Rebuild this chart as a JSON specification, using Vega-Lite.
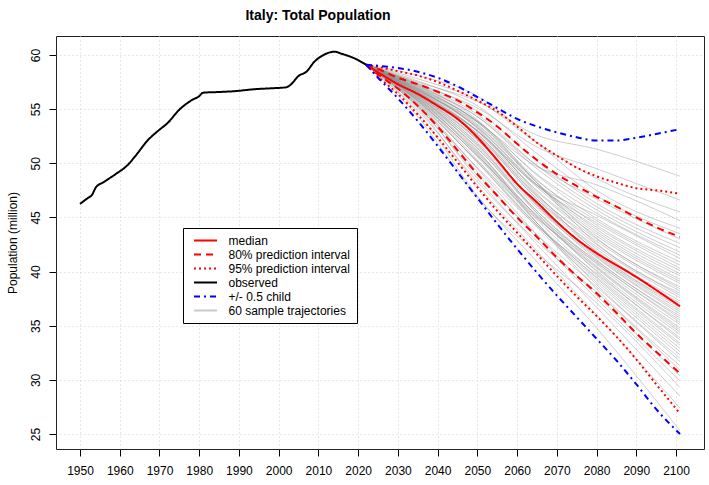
{
  "$schema": "https://vega.github.io/schema/vega-lite/v6.json",
  "width": 648,
  "height": 413,
  "autosize": {"type": "none"},
  "padding": {"left": 56, "top": 36, "right": 5, "bottom": 36},
  "title": {
    "text": "Italy: Total Population",
    "font": "Liberation Sans",
    "fontSize": 14,
    "fontWeight": "bold",
    "color": "black",
    "anchor": "middle",
    "dx": -62,
    "baseline": "alphabetic",
    "offset": 2.5
  },
  "config": {
    "font": "Liberation Sans",
    "view": {"stroke": "#222", "strokeWidth": 1},
    "axis": {
      "labelFont": "Liberation Sans",
      "labelFontSize": 12,
      "labelColor": "black",
      "tickColor": "black",
      "tickSize": 7,
      "domain": false,
      "grid": true,
      "gridColor": "#d0d0d0",
      "gridDash": [1, 3],
      "gridWidth": 1,
      "titleFont": "Liberation Sans",
      "titleFontSize": 12,
      "titleFontWeight": "normal",
      "titleColor": "black"
    }
  },
  "datasets": {
    "main": [
      {"series": "median", "line": "med", "year": 2022, "pop": 59.1},
      {"series": "median", "line": "med", "year": 2025, "pop": 58.4},
      {"series": "median", "line": "med", "year": 2030, "pop": 57.3},
      {"series": "median", "line": "med", "year": 2035, "pop": 56.4},
      {"series": "median", "line": "med", "year": 2040, "pop": 55.3},
      {"series": "median", "line": "med", "year": 2045, "pop": 54.1},
      {"series": "median", "line": "med", "year": 2050, "pop": 52.4},
      {"series": "median", "line": "med", "year": 2055, "pop": 50.3},
      {"series": "median", "line": "med", "year": 2060, "pop": 48.1},
      {"series": "median", "line": "med", "year": 2065, "pop": 46.4},
      {"series": "median", "line": "med", "year": 2070, "pop": 44.6},
      {"series": "median", "line": "med", "year": 2075, "pop": 43.0},
      {"series": "median", "line": "med", "year": 2080, "pop": 41.7},
      {"series": "median", "line": "med", "year": 2085, "pop": 40.6},
      {"series": "median", "line": "med", "year": 2090, "pop": 39.5},
      {"series": "median", "line": "med", "year": 2095, "pop": 38.3},
      {"series": "median", "line": "med", "year": 2101, "pop": 36.8},

      {"series": "80% prediction interval", "line": "u80", "year": 2022, "pop": 59.1},
      {"series": "80% prediction interval", "line": "u80", "year": 2025, "pop": 58.7},
      {"series": "80% prediction interval", "line": "u80", "year": 2030, "pop": 57.9},
      {"series": "80% prediction interval", "line": "u80", "year": 2035, "pop": 57.3},
      {"series": "80% prediction interval", "line": "u80", "year": 2040, "pop": 56.6},
      {"series": "80% prediction interval", "line": "u80", "year": 2045, "pop": 55.8},
      {"series": "80% prediction interval", "line": "u80", "year": 2050, "pop": 54.7},
      {"series": "80% prediction interval", "line": "u80", "year": 2055, "pop": 53.4},
      {"series": "80% prediction interval", "line": "u80", "year": 2060, "pop": 51.8},
      {"series": "80% prediction interval", "line": "u80", "year": 2065, "pop": 50.3},
      {"series": "80% prediction interval", "line": "u80", "year": 2070, "pop": 49.0},
      {"series": "80% prediction interval", "line": "u80", "year": 2075, "pop": 47.9},
      {"series": "80% prediction interval", "line": "u80", "year": 2080, "pop": 46.9},
      {"series": "80% prediction interval", "line": "u80", "year": 2085, "pop": 46.0},
      {"series": "80% prediction interval", "line": "u80", "year": 2090, "pop": 45.0},
      {"series": "80% prediction interval", "line": "u80", "year": 2095, "pop": 44.1},
      {"series": "80% prediction interval", "line": "u80", "year": 2101, "pop": 43.2},

      {"series": "80% prediction interval", "line": "l80", "year": 2022, "pop": 59.1},
      {"series": "80% prediction interval", "line": "l80", "year": 2025, "pop": 58.2},
      {"series": "80% prediction interval", "line": "l80", "year": 2030, "pop": 56.9},
      {"series": "80% prediction interval", "line": "l80", "year": 2035, "pop": 55.3},
      {"series": "80% prediction interval", "line": "l80", "year": 2040, "pop": 53.4},
      {"series": "80% prediction interval", "line": "l80", "year": 2045, "pop": 51.2},
      {"series": "80% prediction interval", "line": "l80", "year": 2050, "pop": 49.0},
      {"series": "80% prediction interval", "line": "l80", "year": 2055, "pop": 47.0},
      {"series": "80% prediction interval", "line": "l80", "year": 2060, "pop": 45.0},
      {"series": "80% prediction interval", "line": "l80", "year": 2065, "pop": 43.2},
      {"series": "80% prediction interval", "line": "l80", "year": 2070, "pop": 41.3},
      {"series": "80% prediction interval", "line": "l80", "year": 2075, "pop": 39.6},
      {"series": "80% prediction interval", "line": "l80", "year": 2080, "pop": 38.0},
      {"series": "80% prediction interval", "line": "l80", "year": 2085, "pop": 36.2},
      {"series": "80% prediction interval", "line": "l80", "year": 2090, "pop": 34.3},
      {"series": "80% prediction interval", "line": "l80", "year": 2095, "pop": 32.6},
      {"series": "80% prediction interval", "line": "l80", "year": 2101, "pop": 30.6},

      {"series": "95% prediction interval", "line": "u95", "year": 2022, "pop": 59.1},
      {"series": "95% prediction interval", "line": "u95", "year": 2025, "pop": 58.9},
      {"series": "95% prediction interval", "line": "u95", "year": 2030, "pop": 58.5},
      {"series": "95% prediction interval", "line": "u95", "year": 2035, "pop": 58.1},
      {"series": "95% prediction interval", "line": "u95", "year": 2040, "pop": 57.5},
      {"series": "95% prediction interval", "line": "u95", "year": 2045, "pop": 56.7},
      {"series": "95% prediction interval", "line": "u95", "year": 2050, "pop": 55.8},
      {"series": "95% prediction interval", "line": "u95", "year": 2055, "pop": 54.8},
      {"series": "95% prediction interval", "line": "u95", "year": 2060, "pop": 53.4},
      {"series": "95% prediction interval", "line": "u95", "year": 2065, "pop": 51.9},
      {"series": "95% prediction interval", "line": "u95", "year": 2070, "pop": 50.7},
      {"series": "95% prediction interval", "line": "u95", "year": 2075, "pop": 49.6},
      {"series": "95% prediction interval", "line": "u95", "year": 2080, "pop": 48.8},
      {"series": "95% prediction interval", "line": "u95", "year": 2085, "pop": 48.2},
      {"series": "95% prediction interval", "line": "u95", "year": 2090, "pop": 47.7},
      {"series": "95% prediction interval", "line": "u95", "year": 2095, "pop": 47.5},
      {"series": "95% prediction interval", "line": "u95", "year": 2101, "pop": 47.2},

      {"series": "95% prediction interval", "line": "l95", "year": 2022, "pop": 59.1},
      {"series": "95% prediction interval", "line": "l95", "year": 2025, "pop": 58.0},
      {"series": "95% prediction interval", "line": "l95", "year": 2030, "pop": 56.4},
      {"series": "95% prediction interval", "line": "l95", "year": 2035, "pop": 54.5},
      {"series": "95% prediction interval", "line": "l95", "year": 2040, "pop": 52.4},
      {"series": "95% prediction interval", "line": "l95", "year": 2045, "pop": 50.1},
      {"series": "95% prediction interval", "line": "l95", "year": 2050, "pop": 47.8},
      {"series": "95% prediction interval", "line": "l95", "year": 2055, "pop": 45.6},
      {"series": "95% prediction interval", "line": "l95", "year": 2060, "pop": 43.6},
      {"series": "95% prediction interval", "line": "l95", "year": 2065, "pop": 41.6},
      {"series": "95% prediction interval", "line": "l95", "year": 2070, "pop": 39.6},
      {"series": "95% prediction interval", "line": "l95", "year": 2075, "pop": 37.7},
      {"series": "95% prediction interval", "line": "l95", "year": 2080, "pop": 35.9},
      {"series": "95% prediction interval", "line": "l95", "year": 2085, "pop": 34.0},
      {"series": "95% prediction interval", "line": "l95", "year": 2090, "pop": 31.9},
      {"series": "95% prediction interval", "line": "l95", "year": 2095, "pop": 29.6},
      {"series": "95% prediction interval", "line": "l95", "year": 2101, "pop": 26.9},

      {"series": "observed", "line": "obs", "year": 1950, "pop": 46.25},
      {"series": "observed", "line": "obs", "year": 1952, "pop": 46.8},
      {"series": "observed", "line": "obs", "year": 1953, "pop": 47.07},
      {"series": "observed", "line": "obs", "year": 1954, "pop": 47.78},
      {"series": "observed", "line": "obs", "year": 1956, "pop": 48.27},
      {"series": "observed", "line": "obs", "year": 1959, "pop": 49.01},
      {"series": "observed", "line": "obs", "year": 1962, "pop": 49.84},
      {"series": "observed", "line": "obs", "year": 1964, "pop": 50.7},
      {"series": "observed", "line": "obs", "year": 1967, "pop": 52.1},
      {"series": "observed", "line": "obs", "year": 1970, "pop": 53.1},
      {"series": "observed", "line": "obs", "year": 1972, "pop": 53.7},
      {"series": "observed", "line": "obs", "year": 1975, "pop": 54.95},
      {"series": "observed", "line": "obs", "year": 1978, "pop": 55.8},
      {"series": "observed", "line": "obs", "year": 1980, "pop": 56.2},
      {"series": "observed", "line": "obs", "year": 1981, "pop": 56.52},
      {"series": "observed", "line": "obs", "year": 1985, "pop": 56.58},
      {"series": "observed", "line": "obs", "year": 1989, "pop": 56.66},
      {"series": "observed", "line": "obs", "year": 1994, "pop": 56.84},
      {"series": "observed", "line": "obs", "year": 1998, "pop": 56.92},
      {"series": "observed", "line": "obs", "year": 2002, "pop": 57.02},
      {"series": "observed", "line": "obs", "year": 2003, "pop": 57.25},
      {"series": "observed", "line": "obs", "year": 2005, "pop": 58.06},
      {"series": "observed", "line": "obs", "year": 2007, "pop": 58.46},
      {"series": "observed", "line": "obs", "year": 2009, "pop": 59.38},
      {"series": "observed", "line": "obs", "year": 2011, "pop": 59.94},
      {"series": "observed", "line": "obs", "year": 2013, "pop": 60.25},
      {"series": "observed", "line": "obs", "year": 2014, "pop": 60.3},
      {"series": "observed", "line": "obs", "year": 2016, "pop": 60.09},
      {"series": "observed", "line": "obs", "year": 2019, "pop": 59.7},
      {"series": "observed", "line": "obs", "year": 2022, "pop": 59.1},

      {"series": "+/- 0.5 child", "line": "hi", "year": 2022, "pop": 59.1},
      {"series": "+/- 0.5 child", "line": "hi", "year": 2025, "pop": 59.0},
      {"series": "+/- 0.5 child", "line": "hi", "year": 2030, "pop": 58.8},
      {"series": "+/- 0.5 child", "line": "hi", "year": 2035, "pop": 58.45},
      {"series": "+/- 0.5 child", "line": "hi", "year": 2040, "pop": 57.9},
      {"series": "+/- 0.5 child", "line": "hi", "year": 2045, "pop": 57.1},
      {"series": "+/- 0.5 child", "line": "hi", "year": 2050, "pop": 56.1},
      {"series": "+/- 0.5 child", "line": "hi", "year": 2055, "pop": 55.1},
      {"series": "+/- 0.5 child", "line": "hi", "year": 2060, "pop": 54.1},
      {"series": "+/- 0.5 child", "line": "hi", "year": 2065, "pop": 53.4},
      {"series": "+/- 0.5 child", "line": "hi", "year": 2070, "pop": 52.85},
      {"series": "+/- 0.5 child", "line": "hi", "year": 2075, "pop": 52.4},
      {"series": "+/- 0.5 child", "line": "hi", "year": 2080, "pop": 52.1},
      {"series": "+/- 0.5 child", "line": "hi", "year": 2085, "pop": 52.1},
      {"series": "+/- 0.5 child", "line": "hi", "year": 2090, "pop": 52.35},
      {"series": "+/- 0.5 child", "line": "hi", "year": 2095, "pop": 52.7},
      {"series": "+/- 0.5 child", "line": "hi", "year": 2101, "pop": 53.15},

      {"series": "+/- 0.5 child", "line": "lo", "year": 2022, "pop": 59.1},
      {"series": "+/- 0.5 child", "line": "lo", "year": 2025, "pop": 57.9},
      {"series": "+/- 0.5 child", "line": "lo", "year": 2030, "pop": 56.0},
      {"series": "+/- 0.5 child", "line": "lo", "year": 2035, "pop": 53.9},
      {"series": "+/- 0.5 child", "line": "lo", "year": 2040, "pop": 51.6},
      {"series": "+/- 0.5 child", "line": "lo", "year": 2045, "pop": 49.2},
      {"series": "+/- 0.5 child", "line": "lo", "year": 2050, "pop": 46.8},
      {"series": "+/- 0.5 child", "line": "lo", "year": 2055, "pop": 44.4},
      {"series": "+/- 0.5 child", "line": "lo", "year": 2060, "pop": 42.1},
      {"series": "+/- 0.5 child", "line": "lo", "year": 2065, "pop": 39.9},
      {"series": "+/- 0.5 child", "line": "lo", "year": 2070, "pop": 37.8},
      {"series": "+/- 0.5 child", "line": "lo", "year": 2075, "pop": 35.8},
      {"series": "+/- 0.5 child", "line": "lo", "year": 2080, "pop": 33.8},
      {"series": "+/- 0.5 child", "line": "lo", "year": 2085, "pop": 31.8},
      {"series": "+/- 0.5 child", "line": "lo", "year": 2090, "pop": 29.6},
      {"series": "+/- 0.5 child", "line": "lo", "year": 2095, "pop": 27.3},
      {"series": "+/- 0.5 child", "line": "lo", "year": 2101, "pop": 25.0}
    ],
    "traj": [
      {"series": "60 sample trajectories", "line": "t0", "year": 2022, "pop": 59.1},
      {"series": "60 sample trajectories", "line": "t0", "year": 2035, "pop": 54.3},
      {"series": "60 sample trajectories", "line": "t0", "year": 2050, "pop": 46.8},
      {"series": "60 sample trajectories", "line": "t0", "year": 2065, "pop": 41.7},
      {"series": "60 sample trajectories", "line": "t0", "year": 2080, "pop": 37.1},
      {"series": "60 sample trajectories", "line": "t0", "year": 2101, "pop": 29.3},
      {"series": "60 sample trajectories", "line": "t1", "year": 2022, "pop": 59.1},
      {"series": "60 sample trajectories", "line": "t1", "year": 2035, "pop": 54.7},
      {"series": "60 sample trajectories", "line": "t1", "year": 2050, "pop": 47.0},
      {"series": "60 sample trajectories", "line": "t1", "year": 2065, "pop": 40.9},
      {"series": "60 sample trajectories", "line": "t1", "year": 2080, "pop": 34.8},
      {"series": "60 sample trajectories", "line": "t1", "year": 2101, "pop": 25.3},
      {"series": "60 sample trajectories", "line": "t2", "year": 2022, "pop": 59.1},
      {"series": "60 sample trajectories", "line": "t2", "year": 2035, "pop": 54.9},
      {"series": "60 sample trajectories", "line": "t2", "year": 2050, "pop": 48.3},
      {"series": "60 sample trajectories", "line": "t2", "year": 2065, "pop": 42.8},
      {"series": "60 sample trajectories", "line": "t2", "year": 2080, "pop": 38.1},
      {"series": "60 sample trajectories", "line": "t2", "year": 2101, "pop": 30.9},
      {"series": "60 sample trajectories", "line": "t3", "year": 2022, "pop": 59.1},
      {"series": "60 sample trajectories", "line": "t3", "year": 2035, "pop": 55.1},
      {"series": "60 sample trajectories", "line": "t3", "year": 2050, "pop": 48.0},
      {"series": "60 sample trajectories", "line": "t3", "year": 2065, "pop": 41.9},
      {"series": "60 sample trajectories", "line": "t3", "year": 2080, "pop": 36.0},
      {"series": "60 sample trajectories", "line": "t3", "year": 2101, "pop": 27.4},
      {"series": "60 sample trajectories", "line": "t4", "year": 2022, "pop": 59.1},
      {"series": "60 sample trajectories", "line": "t4", "year": 2035, "pop": 55.2},
      {"series": "60 sample trajectories", "line": "t4", "year": 2050, "pop": 48.9},
      {"series": "60 sample trajectories", "line": "t4", "year": 2065, "pop": 43.4},
      {"series": "60 sample trajectories", "line": "t4", "year": 2080, "pop": 38.6},
      {"series": "60 sample trajectories", "line": "t4", "year": 2101, "pop": 31.7},
      {"series": "60 sample trajectories", "line": "t5", "year": 2022, "pop": 59.1},
      {"series": "60 sample trajectories", "line": "t5", "year": 2035, "pop": 55.3},
      {"series": "60 sample trajectories", "line": "t5", "year": 2050, "pop": 48.6},
      {"series": "60 sample trajectories", "line": "t5", "year": 2065, "pop": 42.5},
      {"series": "60 sample trajectories", "line": "t5", "year": 2080, "pop": 36.7},
      {"series": "60 sample trajectories", "line": "t5", "year": 2101, "pop": 28.5},
      {"series": "60 sample trajectories", "line": "t6", "year": 2022, "pop": 59.1},
      {"series": "60 sample trajectories", "line": "t6", "year": 2035, "pop": 55.3},
      {"series": "60 sample trajectories", "line": "t6", "year": 2050, "pop": 49.6},
      {"series": "60 sample trajectories", "line": "t6", "year": 2065, "pop": 44.2},
      {"series": "60 sample trajectories", "line": "t6", "year": 2080, "pop": 39.8},
      {"series": "60 sample trajectories", "line": "t6", "year": 2101, "pop": 33.7},
      {"series": "60 sample trajectories", "line": "t7", "year": 2022, "pop": 59.1},
      {"series": "60 sample trajectories", "line": "t7", "year": 2035, "pop": 55.4},
      {"series": "60 sample trajectories", "line": "t7", "year": 2050, "pop": 49.2},
      {"series": "60 sample trajectories", "line": "t7", "year": 2065, "pop": 43.1},
      {"series": "60 sample trajectories", "line": "t7", "year": 2080, "pop": 37.5},
      {"series": "60 sample trajectories", "line": "t7", "year": 2101, "pop": 29.9},
      {"series": "60 sample trajectories", "line": "t8", "year": 2022, "pop": 59.1},
      {"series": "60 sample trajectories", "line": "t8", "year": 2035, "pop": 55.5},
      {"series": "60 sample trajectories", "line": "t8", "year": 2050, "pop": 50.2},
      {"series": "60 sample trajectories", "line": "t8", "year": 2065, "pop": 44.9},
      {"series": "60 sample trajectories", "line": "t8", "year": 2080, "pop": 40.8},
      {"series": "60 sample trajectories", "line": "t8", "year": 2101, "pop": 35.3},
      {"series": "60 sample trajectories", "line": "t9", "year": 2022, "pop": 59.1},
      {"series": "60 sample trajectories", "line": "t9", "year": 2035, "pop": 55.5},
      {"series": "60 sample trajectories", "line": "t9", "year": 2050, "pop": 49.5},
      {"series": "60 sample trajectories", "line": "t9", "year": 2065, "pop": 43.4},
      {"series": "60 sample trajectories", "line": "t9", "year": 2080, "pop": 37.8},
      {"series": "60 sample trajectories", "line": "t9", "year": 2101, "pop": 30.4},
      {"series": "60 sample trajectories", "line": "t10", "year": 2022, "pop": 59.1},
      {"series": "60 sample trajectories", "line": "t10", "year": 2035, "pop": 55.6},
      {"series": "60 sample trajectories", "line": "t10", "year": 2050, "pop": 50.1},
      {"series": "60 sample trajectories", "line": "t10", "year": 2065, "pop": 44.3},
      {"series": "60 sample trajectories", "line": "t10", "year": 2080, "pop": 39.5},
      {"series": "60 sample trajectories", "line": "t10", "year": 2101, "pop": 33.2},
      {"series": "60 sample trajectories", "line": "t11", "year": 2022, "pop": 59.1},
      {"series": "60 sample trajectories", "line": "t11", "year": 2035, "pop": 55.7},
      {"series": "60 sample trajectories", "line": "t11", "year": 2050, "pop": 50.1},
      {"series": "60 sample trajectories", "line": "t11", "year": 2065, "pop": 44.1},
      {"series": "60 sample trajectories", "line": "t11", "year": 2080, "pop": 39.0},
      {"series": "60 sample trajectories", "line": "t11", "year": 2101, "pop": 32.3},
      {"series": "60 sample trajectories", "line": "t12", "year": 2022, "pop": 59.1},
      {"series": "60 sample trajectories", "line": "t12", "year": 2035, "pop": 55.7},
      {"series": "60 sample trajectories", "line": "t12", "year": 2050, "pop": 50.7},
      {"series": "60 sample trajectories", "line": "t12", "year": 2065, "pop": 45.2},
      {"series": "60 sample trajectories", "line": "t12", "year": 2080, "pop": 41.0},
      {"series": "60 sample trajectories", "line": "t12", "year": 2101, "pop": 35.7},
      {"series": "60 sample trajectories", "line": "t13", "year": 2022, "pop": 59.1},
      {"series": "60 sample trajectories", "line": "t13", "year": 2035, "pop": 55.8},
      {"series": "60 sample trajectories", "line": "t13", "year": 2050, "pop": 50.3},
      {"series": "60 sample trajectories", "line": "t13", "year": 2065, "pop": 44.3},
      {"series": "60 sample trajectories", "line": "t13", "year": 2080, "pop": 39.2},
      {"series": "60 sample trajectories", "line": "t13", "year": 2101, "pop": 32.6},
      {"series": "60 sample trajectories", "line": "t14", "year": 2022, "pop": 59.1},
      {"series": "60 sample trajectories", "line": "t14", "year": 2035, "pop": 55.8},
      {"series": "60 sample trajectories", "line": "t14", "year": 2050, "pop": 50.7},
      {"series": "60 sample trajectories", "line": "t14", "year": 2065, "pop": 45.0},
      {"series": "60 sample trajectories", "line": "t14", "year": 2080, "pop": 40.3},
      {"series": "60 sample trajectories", "line": "t14", "year": 2101, "pop": 34.4},
      {"series": "60 sample trajectories", "line": "t15", "year": 2022, "pop": 59.1},
      {"series": "60 sample trajectories", "line": "t15", "year": 2035, "pop": 55.8},
      {"series": "60 sample trajectories", "line": "t15", "year": 2050, "pop": 50.6},
      {"series": "60 sample trajectories", "line": "t15", "year": 2065, "pop": 44.5},
      {"series": "60 sample trajectories", "line": "t15", "year": 2080, "pop": 39.4},
      {"series": "60 sample trajectories", "line": "t15", "year": 2101, "pop": 32.9},
      {"series": "60 sample trajectories", "line": "t16", "year": 2022, "pop": 59.1},
      {"series": "60 sample trajectories", "line": "t16", "year": 2035, "pop": 55.9},
      {"series": "60 sample trajectories", "line": "t16", "year": 2050, "pop": 51.0},
      {"series": "60 sample trajectories", "line": "t16", "year": 2065, "pop": 45.1},
      {"series": "60 sample trajectories", "line": "t16", "year": 2080, "pop": 40.4},
      {"series": "60 sample trajectories", "line": "t16", "year": 2101, "pop": 34.6},
      {"series": "60 sample trajectories", "line": "t17", "year": 2022, "pop": 59.1},
      {"series": "60 sample trajectories", "line": "t17", "year": 2035, "pop": 55.9},
      {"series": "60 sample trajectories", "line": "t17", "year": 2050, "pop": 50.9},
      {"series": "60 sample trajectories", "line": "t17", "year": 2065, "pop": 44.8},
      {"series": "60 sample trajectories", "line": "t17", "year": 2080, "pop": 39.7},
      {"series": "60 sample trajectories", "line": "t17", "year": 2101, "pop": 33.4},
      {"series": "60 sample trajectories", "line": "t18", "year": 2022, "pop": 59.1},
      {"series": "60 sample trajectories", "line": "t18", "year": 2035, "pop": 56.0},
      {"series": "60 sample trajectories", "line": "t18", "year": 2050, "pop": 51.1},
      {"series": "60 sample trajectories", "line": "t18", "year": 2065, "pop": 45.1},
      {"series": "60 sample trajectories", "line": "t18", "year": 2080, "pop": 40.1},
      {"series": "60 sample trajectories", "line": "t18", "year": 2101, "pop": 34.2},
      {"series": "60 sample trajectories", "line": "t19", "year": 2022, "pop": 59.1},
      {"series": "60 sample trajectories", "line": "t19", "year": 2035, "pop": 56.0},
      {"series": "60 sample trajectories", "line": "t19", "year": 2050, "pop": 50.8},
      {"series": "60 sample trajectories", "line": "t19", "year": 2065, "pop": 44.5},
      {"series": "60 sample trajectories", "line": "t19", "year": 2080, "pop": 38.8},
      {"series": "60 sample trajectories", "line": "t19", "year": 2101, "pop": 32.0},
      {"series": "60 sample trajectories", "line": "t20", "year": 2022, "pop": 59.1},
      {"series": "60 sample trajectories", "line": "t20", "year": 2035, "pop": 56.0},
      {"series": "60 sample trajectories", "line": "t20", "year": 2050, "pop": 51.4},
      {"series": "60 sample trajectories", "line": "t20", "year": 2065, "pop": 45.6},
      {"series": "60 sample trajectories", "line": "t20", "year": 2080, "pop": 40.9},
      {"series": "60 sample trajectories", "line": "t20", "year": 2101, "pop": 35.5},
      {"series": "60 sample trajectories", "line": "t21", "year": 2022, "pop": 59.1},
      {"series": "60 sample trajectories", "line": "t21", "year": 2035, "pop": 56.1},
      {"series": "60 sample trajectories", "line": "t21", "year": 2050, "pop": 51.4},
      {"series": "60 sample trajectories", "line": "t21", "year": 2065, "pop": 45.4},
      {"series": "60 sample trajectories", "line": "t21", "year": 2080, "pop": 40.5},
      {"series": "60 sample trajectories", "line": "t21", "year": 2101, "pop": 34.8},
      {"series": "60 sample trajectories", "line": "t22", "year": 2022, "pop": 59.1},
      {"series": "60 sample trajectories", "line": "t22", "year": 2035, "pop": 56.1},
      {"series": "60 sample trajectories", "line": "t22", "year": 2050, "pop": 51.7},
      {"series": "60 sample trajectories", "line": "t22", "year": 2065, "pop": 45.9},
      {"series": "60 sample trajectories", "line": "t22", "year": 2080, "pop": 41.3},
      {"series": "60 sample trajectories", "line": "t22", "year": 2101, "pop": 36.1},
      {"series": "60 sample trajectories", "line": "t23", "year": 2022, "pop": 59.1},
      {"series": "60 sample trajectories", "line": "t23", "year": 2035, "pop": 56.2},
      {"series": "60 sample trajectories", "line": "t23", "year": 2050, "pop": 51.6},
      {"series": "60 sample trajectories", "line": "t23", "year": 2065, "pop": 45.6},
      {"series": "60 sample trajectories", "line": "t23", "year": 2080, "pop": 40.7},
      {"series": "60 sample trajectories", "line": "t23", "year": 2101, "pop": 35.1},
      {"series": "60 sample trajectories", "line": "t24", "year": 2022, "pop": 59.1},
      {"series": "60 sample trajectories", "line": "t24", "year": 2035, "pop": 56.2},
      {"series": "60 sample trajectories", "line": "t24", "year": 2050, "pop": 51.9},
      {"series": "60 sample trajectories", "line": "t24", "year": 2065, "pop": 46.1},
      {"series": "60 sample trajectories", "line": "t24", "year": 2080, "pop": 41.5},
      {"series": "60 sample trajectories", "line": "t24", "year": 2101, "pop": 36.5},
      {"series": "60 sample trajectories", "line": "t25", "year": 2022, "pop": 59.1},
      {"series": "60 sample trajectories", "line": "t25", "year": 2035, "pop": 56.2},
      {"series": "60 sample trajectories", "line": "t25", "year": 2050, "pop": 51.2},
      {"series": "60 sample trajectories", "line": "t25", "year": 2065, "pop": 44.5},
      {"series": "60 sample trajectories", "line": "t25", "year": 2080, "pop": 38.4},
      {"series": "60 sample trajectories", "line": "t25", "year": 2101, "pop": 31.3},
      {"series": "60 sample trajectories", "line": "t26", "year": 2022, "pop": 59.1},
      {"series": "60 sample trajectories", "line": "t26", "year": 2035, "pop": 56.3},
      {"series": "60 sample trajectories", "line": "t26", "year": 2050, "pop": 52.1},
      {"series": "60 sample trajectories", "line": "t26", "year": 2065, "pop": 46.2},
      {"series": "60 sample trajectories", "line": "t26", "year": 2080, "pop": 41.6},
      {"series": "60 sample trajectories", "line": "t26", "year": 2101, "pop": 36.7},
      {"series": "60 sample trajectories", "line": "t27", "year": 2022, "pop": 59.1},
      {"series": "60 sample trajectories", "line": "t27", "year": 2035, "pop": 56.3},
      {"series": "60 sample trajectories", "line": "t27", "year": 2050, "pop": 51.8},
      {"series": "60 sample trajectories", "line": "t27", "year": 2065, "pop": 45.4},
      {"series": "60 sample trajectories", "line": "t27", "year": 2080, "pop": 40.0},
      {"series": "60 sample trajectories", "line": "t27", "year": 2101, "pop": 33.9},
      {"series": "60 sample trajectories", "line": "t28", "year": 2022, "pop": 59.1},
      {"series": "60 sample trajectories", "line": "t28", "year": 2035, "pop": 56.3},
      {"series": "60 sample trajectories", "line": "t28", "year": 2050, "pop": 52.2},
      {"series": "60 sample trajectories", "line": "t28", "year": 2065, "pop": 46.2},
      {"series": "60 sample trajectories", "line": "t28", "year": 2080, "pop": 41.4},
      {"series": "60 sample trajectories", "line": "t28", "year": 2101, "pop": 36.3},
      {"series": "60 sample trajectories", "line": "t29", "year": 2022, "pop": 59.1},
      {"series": "60 sample trajectories", "line": "t29", "year": 2035, "pop": 56.4},
      {"series": "60 sample trajectories", "line": "t29", "year": 2050, "pop": 52.2},
      {"series": "60 sample trajectories", "line": "t29", "year": 2065, "pop": 46.1},
      {"series": "60 sample trajectories", "line": "t29", "year": 2080, "pop": 41.1},
      {"series": "60 sample trajectories", "line": "t29", "year": 2101, "pop": 35.9},
      {"series": "60 sample trajectories", "line": "t30", "year": 2022, "pop": 59.1},
      {"series": "60 sample trajectories", "line": "t30", "year": 2035, "pop": 56.4},
      {"series": "60 sample trajectories", "line": "t30", "year": 2050, "pop": 52.5},
      {"series": "60 sample trajectories", "line": "t30", "year": 2065, "pop": 46.7},
      {"series": "60 sample trajectories", "line": "t30", "year": 2080, "pop": 42.3},
      {"series": "60 sample trajectories", "line": "t30", "year": 2101, "pop": 37.6},
      {"series": "60 sample trajectories", "line": "t31", "year": 2022, "pop": 59.1},
      {"series": "60 sample trajectories", "line": "t31", "year": 2035, "pop": 56.4},
      {"series": "60 sample trajectories", "line": "t31", "year": 2050, "pop": 53.0},
      {"series": "60 sample trajectories", "line": "t31", "year": 2065, "pop": 48.0},
      {"series": "60 sample trajectories", "line": "t31", "year": 2080, "pop": 45.2},
      {"series": "60 sample trajectories", "line": "t31", "year": 2101, "pop": 41.2},
      {"series": "60 sample trajectories", "line": "t32", "year": 2022, "pop": 59.1},
      {"series": "60 sample trajectories", "line": "t32", "year": 2035, "pop": 56.5},
      {"series": "60 sample trajectories", "line": "t32", "year": 2050, "pop": 52.7},
      {"series": "60 sample trajectories", "line": "t32", "year": 2065, "pop": 47.0},
      {"series": "60 sample trajectories", "line": "t32", "year": 2080, "pop": 42.8},
      {"series": "60 sample trajectories", "line": "t32", "year": 2101, "pop": 38.2},
      {"series": "60 sample trajectories", "line": "t33", "year": 2022, "pop": 59.1},
      {"series": "60 sample trajectories", "line": "t33", "year": 2035, "pop": 56.5},
      {"series": "60 sample trajectories", "line": "t33", "year": 2050, "pop": 52.6},
      {"series": "60 sample trajectories", "line": "t33", "year": 2065, "pop": 46.7},
      {"series": "60 sample trajectories", "line": "t33", "year": 2080, "pop": 41.9},
      {"series": "60 sample trajectories", "line": "t33", "year": 2101, "pop": 37.1},
      {"series": "60 sample trajectories", "line": "t34", "year": 2022, "pop": 59.1},
      {"series": "60 sample trajectories", "line": "t34", "year": 2035, "pop": 56.5},
      {"series": "60 sample trajectories", "line": "t34", "year": 2050, "pop": 53.0},
      {"series": "60 sample trajectories", "line": "t34", "year": 2065, "pop": 47.9},
      {"series": "60 sample trajectories", "line": "t34", "year": 2080, "pop": 44.5},
      {"series": "60 sample trajectories", "line": "t34", "year": 2101, "pop": 40.3},
      {"series": "60 sample trajectories", "line": "t35", "year": 2022, "pop": 59.1},
      {"series": "60 sample trajectories", "line": "t35", "year": 2035, "pop": 56.6},
      {"series": "60 sample trajectories", "line": "t35", "year": 2050, "pop": 52.7},
      {"series": "60 sample trajectories", "line": "t35", "year": 2065, "pop": 46.9},
      {"series": "60 sample trajectories", "line": "t35", "year": 2080, "pop": 42.1},
      {"series": "60 sample trajectories", "line": "t35", "year": 2101, "pop": 37.3},
      {"series": "60 sample trajectories", "line": "t36", "year": 2022, "pop": 59.1},
      {"series": "60 sample trajectories", "line": "t36", "year": 2035, "pop": 56.6},
      {"series": "60 sample trajectories", "line": "t36", "year": 2050, "pop": 53.0},
      {"series": "60 sample trajectories", "line": "t36", "year": 2065, "pop": 47.5},
      {"series": "60 sample trajectories", "line": "t36", "year": 2080, "pop": 43.3},
      {"series": "60 sample trajectories", "line": "t36", "year": 2101, "pop": 38.9},
      {"series": "60 sample trajectories", "line": "t37", "year": 2022, "pop": 59.1},
      {"series": "60 sample trajectories", "line": "t37", "year": 2035, "pop": 56.6},
      {"series": "60 sample trajectories", "line": "t37", "year": 2050, "pop": 52.9},
      {"series": "60 sample trajectories", "line": "t37", "year": 2065, "pop": 47.1},
      {"series": "60 sample trajectories", "line": "t37", "year": 2080, "pop": 42.5},
      {"series": "60 sample trajectories", "line": "t37", "year": 2101, "pop": 37.8},
      {"series": "60 sample trajectories", "line": "t38", "year": 2022, "pop": 59.1},
      {"series": "60 sample trajectories", "line": "t38", "year": 2035, "pop": 56.7},
      {"series": "60 sample trajectories", "line": "t38", "year": 2050, "pop": 53.0},
      {"series": "60 sample trajectories", "line": "t38", "year": 2065, "pop": 47.4},
      {"series": "60 sample trajectories", "line": "t38", "year": 2080, "pop": 43.0},
      {"series": "60 sample trajectories", "line": "t38", "year": 2101, "pop": 38.4},
      {"series": "60 sample trajectories", "line": "t39", "year": 2022, "pop": 59.1},
      {"series": "60 sample trajectories", "line": "t39", "year": 2035, "pop": 56.7},
      {"series": "60 sample trajectories", "line": "t39", "year": 2050, "pop": 53.8},
      {"series": "60 sample trajectories", "line": "t39", "year": 2065, "pop": 49.7},
      {"series": "60 sample trajectories", "line": "t39", "year": 2080, "pop": 48.0},
      {"series": "60 sample trajectories", "line": "t39", "year": 2101, "pop": 44.7},
      {"series": "60 sample trajectories", "line": "t40", "year": 2022, "pop": 59.1},
      {"series": "60 sample trajectories", "line": "t40", "year": 2035, "pop": 56.7},
      {"series": "60 sample trajectories", "line": "t40", "year": 2050, "pop": 53.3},
      {"series": "60 sample trajectories", "line": "t40", "year": 2065, "pop": 48.0},
      {"series": "60 sample trajectories", "line": "t40", "year": 2080, "pop": 44.1},
      {"series": "60 sample trajectories", "line": "t40", "year": 2101, "pop": 39.8},
      {"series": "60 sample trajectories", "line": "t41", "year": 2022, "pop": 59.1},
      {"series": "60 sample trajectories", "line": "t41", "year": 2035, "pop": 56.8},
      {"series": "60 sample trajectories", "line": "t41", "year": 2050, "pop": 53.3},
      {"series": "60 sample trajectories", "line": "t41", "year": 2065, "pop": 47.8},
      {"series": "60 sample trajectories", "line": "t41", "year": 2080, "pop": 43.5},
      {"series": "60 sample trajectories", "line": "t41", "year": 2101, "pop": 39.1},
      {"series": "60 sample trajectories", "line": "t42", "year": 2022, "pop": 59.1},
      {"series": "60 sample trajectories", "line": "t42", "year": 2035, "pop": 56.8},
      {"series": "60 sample trajectories", "line": "t42", "year": 2050, "pop": 53.5},
      {"series": "60 sample trajectories", "line": "t42", "year": 2065, "pop": 48.4},
      {"series": "60 sample trajectories", "line": "t42", "year": 2080, "pop": 44.7},
      {"series": "60 sample trajectories", "line": "t42", "year": 2101, "pop": 40.6},
      {"series": "60 sample trajectories", "line": "t43", "year": 2022, "pop": 59.1},
      {"series": "60 sample trajectories", "line": "t43", "year": 2035, "pop": 56.8},
      {"series": "60 sample trajectories", "line": "t43", "year": 2050, "pop": 53.4},
      {"series": "60 sample trajectories", "line": "t43", "year": 2065, "pop": 48.0},
      {"series": "60 sample trajectories", "line": "t43", "year": 2080, "pop": 43.7},
      {"series": "60 sample trajectories", "line": "t43", "year": 2101, "pop": 39.3},
      {"series": "60 sample trajectories", "line": "t44", "year": 2022, "pop": 59.1},
      {"series": "60 sample trajectories", "line": "t44", "year": 2035, "pop": 56.9},
      {"series": "60 sample trajectories", "line": "t44", "year": 2050, "pop": 53.2},
      {"series": "60 sample trajectories", "line": "t44", "year": 2065, "pop": 47.2},
      {"series": "60 sample trajectories", "line": "t44", "year": 2080, "pop": 41.8},
      {"series": "60 sample trajectories", "line": "t44", "year": 2101, "pop": 36.9},
      {"series": "60 sample trajectories", "line": "t45", "year": 2022, "pop": 59.1},
      {"series": "60 sample trajectories", "line": "t45", "year": 2035, "pop": 56.9},
      {"series": "60 sample trajectories", "line": "t45", "year": 2050, "pop": 53.6},
      {"series": "60 sample trajectories", "line": "t45", "year": 2065, "pop": 48.2},
      {"series": "60 sample trajectories", "line": "t45", "year": 2080, "pop": 43.9},
      {"series": "60 sample trajectories", "line": "t45", "year": 2101, "pop": 39.6},
      {"series": "60 sample trajectories", "line": "t46", "year": 2022, "pop": 59.1},
      {"series": "60 sample trajectories", "line": "t46", "year": 2035, "pop": 56.9},
      {"series": "60 sample trajectories", "line": "t46", "year": 2050, "pop": 53.9},
      {"series": "60 sample trajectories", "line": "t46", "year": 2065, "pop": 49.0},
      {"series": "60 sample trajectories", "line": "t46", "year": 2080, "pop": 45.4},
      {"series": "60 sample trajectories", "line": "t46", "year": 2101, "pop": 41.5},
      {"series": "60 sample trajectories", "line": "t47", "year": 2022, "pop": 59.1},
      {"series": "60 sample trajectories", "line": "t47", "year": 2035, "pop": 57.0},
      {"series": "60 sample trajectories", "line": "t47", "year": 2050, "pop": 53.8},
      {"series": "60 sample trajectories", "line": "t47", "year": 2065, "pop": 48.5},
      {"series": "60 sample trajectories", "line": "t47", "year": 2080, "pop": 44.3},
      {"series": "60 sample trajectories", "line": "t47", "year": 2101, "pop": 40.1},
      {"series": "60 sample trajectories", "line": "t48", "year": 2022, "pop": 59.1},
      {"series": "60 sample trajectories", "line": "t48", "year": 2035, "pop": 57.0},
      {"series": "60 sample trajectories", "line": "t48", "year": 2050, "pop": 53.9},
      {"series": "60 sample trajectories", "line": "t48", "year": 2065, "pop": 48.9},
      {"series": "60 sample trajectories", "line": "t48", "year": 2080, "pop": 44.9},
      {"series": "60 sample trajectories", "line": "t48", "year": 2101, "pop": 40.9},
      {"series": "60 sample trajectories", "line": "t49", "year": 2022, "pop": 59.1},
      {"series": "60 sample trajectories", "line": "t49", "year": 2035, "pop": 57.1},
      {"series": "60 sample trajectories", "line": "t49", "year": 2050, "pop": 53.8},
      {"series": "60 sample trajectories", "line": "t49", "year": 2065, "pop": 48.2},
      {"series": "60 sample trajectories", "line": "t49", "year": 2080, "pop": 43.1},
      {"series": "60 sample trajectories", "line": "t49", "year": 2101, "pop": 38.6},
      {"series": "60 sample trajectories", "line": "t50", "year": 2022, "pop": 59.1},
      {"series": "60 sample trajectories", "line": "t50", "year": 2035, "pop": 57.1},
      {"series": "60 sample trajectories", "line": "t50", "year": 2050, "pop": 54.3},
      {"series": "60 sample trajectories", "line": "t50", "year": 2065, "pop": 49.8},
      {"series": "60 sample trajectories", "line": "t50", "year": 2080, "pop": 46.7},
      {"series": "60 sample trajectories", "line": "t50", "year": 2101, "pop": 43.0},
      {"series": "60 sample trajectories", "line": "t51", "year": 2022, "pop": 59.1},
      {"series": "60 sample trajectories", "line": "t51", "year": 2035, "pop": 57.2},
      {"series": "60 sample trajectories", "line": "t51", "year": 2050, "pop": 54.3},
      {"series": "60 sample trajectories", "line": "t51", "year": 2065, "pop": 49.5},
      {"series": "60 sample trajectories", "line": "t51", "year": 2080, "pop": 45.7},
      {"series": "60 sample trajectories", "line": "t51", "year": 2101, "pop": 41.8},
      {"series": "60 sample trajectories", "line": "t52", "year": 2022, "pop": 59.1},
      {"series": "60 sample trajectories", "line": "t52", "year": 2035, "pop": 57.2},
      {"series": "60 sample trajectories", "line": "t52", "year": 2050, "pop": 54.0},
      {"series": "60 sample trajectories", "line": "t52", "year": 2065, "pop": 48.2},
      {"series": "60 sample trajectories", "line": "t52", "year": 2080, "pop": 42.6},
      {"series": "60 sample trajectories", "line": "t52", "year": 2101, "pop": 38.0},
      {"series": "60 sample trajectories", "line": "t53", "year": 2022, "pop": 59.1},
      {"series": "60 sample trajectories", "line": "t53", "year": 2035, "pop": 57.3},
      {"series": "60 sample trajectories", "line": "t53", "year": 2050, "pop": 54.5},
      {"series": "60 sample trajectories", "line": "t53", "year": 2065, "pop": 49.8},
      {"series": "60 sample trajectories", "line": "t53", "year": 2080, "pop": 46.0},
      {"series": "60 sample trajectories", "line": "t53", "year": 2101, "pop": 42.2},
      {"series": "60 sample trajectories", "line": "t54", "year": 2022, "pop": 59.1},
      {"series": "60 sample trajectories", "line": "t54", "year": 2035, "pop": 57.3},
      {"series": "60 sample trajectories", "line": "t54", "year": 2050, "pop": 55.1},
      {"series": "60 sample trajectories", "line": "t54", "year": 2065, "pop": 51.5},
      {"series": "60 sample trajectories", "line": "t54", "year": 2080, "pop": 49.5},
      {"series": "60 sample trajectories", "line": "t54", "year": 2101, "pop": 46.6},
      {"series": "60 sample trajectories", "line": "t55", "year": 2022, "pop": 59.1},
      {"series": "60 sample trajectories", "line": "t55", "year": 2035, "pop": 57.4},
      {"series": "60 sample trajectories", "line": "t55", "year": 2050, "pop": 54.8},
      {"series": "60 sample trajectories", "line": "t55", "year": 2065, "pop": 50.2},
      {"series": "60 sample trajectories", "line": "t55", "year": 2080, "pop": 46.3},
      {"series": "60 sample trajectories", "line": "t55", "year": 2101, "pop": 42.6},
      {"series": "60 sample trajectories", "line": "t56", "year": 2022, "pop": 59.1},
      {"series": "60 sample trajectories", "line": "t56", "year": 2035, "pop": 57.5},
      {"series": "60 sample trajectories", "line": "t56", "year": 2050, "pop": 55.7},
      {"series": "60 sample trajectories", "line": "t56", "year": 2065, "pop": 52.6},
      {"series": "60 sample trajectories", "line": "t56", "year": 2080, "pop": 51.3},
      {"series": "60 sample trajectories", "line": "t56", "year": 2101, "pop": 48.8},
      {"series": "60 sample trajectories", "line": "t57", "year": 2022, "pop": 59.1},
      {"series": "60 sample trajectories", "line": "t57", "year": 2035, "pop": 57.6},
      {"series": "60 sample trajectories", "line": "t57", "year": 2050, "pop": 55.3},
      {"series": "60 sample trajectories", "line": "t57", "year": 2065, "pop": 50.9},
      {"series": "60 sample trajectories", "line": "t57", "year": 2080, "pop": 47.0},
      {"series": "60 sample trajectories", "line": "t57", "year": 2101, "pop": 43.5},
      {"series": "60 sample trajectories", "line": "t58", "year": 2022, "pop": 59.1},
      {"series": "60 sample trajectories", "line": "t58", "year": 2035, "pop": 57.8},
      {"series": "60 sample trajectories", "line": "t58", "year": 2050, "pop": 55.8},
      {"series": "60 sample trajectories", "line": "t58", "year": 2065, "pop": 51.9},
      {"series": "60 sample trajectories", "line": "t58", "year": 2080, "pop": 48.6},
      {"series": "60 sample trajectories", "line": "t58", "year": 2101, "pop": 45.5},
      {"series": "60 sample trajectories", "line": "t59", "year": 2022, "pop": 59.1},
      {"series": "60 sample trajectories", "line": "t59", "year": 2035, "pop": 58.1},
      {"series": "60 sample trajectories", "line": "t59", "year": 2050, "pop": 56.2},
      {"series": "60 sample trajectories", "line": "t59", "year": 2065, "pop": 51.9},
      {"series": "60 sample trajectories", "line": "t59", "year": 2080, "pop": 47.5},
      {"series": "60 sample trajectories", "line": "t59", "year": 2101, "pop": 44.0}
    ]
  },
  "encoding": {
    "x": {
      "field": "year",
      "type": "quantitative",
      "scale": {"domain": [1943.96, 2107.04], "nice": false, "zero": false},
      "axis": {
        "values": [1950, 1960, 1970, 1980, 1990, 2000, 2010, 2020, 2030, 2040, 2050, 2060, 2070, 2080, 2090, 2100],
        "format": "d",
        "title": null,
        "labelPadding": 9,
        "labelFlush": false,
        "labelOverlap": false
      }
    },
    "y": {
      "field": "pop",
      "type": "quantitative",
      "scale": {"domain": [23.62, 61.75], "nice": false, "zero": false},
      "axis": {
        "values": [25, 30, 35, 40, 45, 50, 55, 60],
        "format": "d",
        "title": "Population (million)",
        "labelAngle": -90,
        "labelAlign": "center",
        "labelBaseline": "bottom",
        "labelPadding": 7,
        "labelFlush": false,
        "titleAngle": -90,
        "titleAlign": "center",
        "titleBaseline": "middle",
        "titleX": -44,
        "titleY": 206.5
      }
    },
    "color": {
      "field": "series",
      "type": "nominal",
      "scale": {
        "domain": ["median", "80% prediction interval", "95% prediction interval", "observed", "+/- 0.5 child", "60 sample trajectories"],
        "range": ["#ff0000", "#ff0000", "#ff0000", "#000000", "#0000ff", "rgba(140,140,140,0.45)"]
      },
      "legend": {
        "title": null,
        "orient": "none",
        "legendX": 127,
        "legendY": 192,
        "symbolType": "M-2.3,0H2.3",
        "symbolSize": 100,
        "symbolStrokeWidth": 2,
        "symbolOffset": 10,
        "labelOffset": 17,
        "labelFont": "Liberation Sans",
        "labelFontSize": 12,
        "labelColor": "black",
        "labelLimit": 300,
        "padding": 6.5,
        "rowPadding": 2,
        "strokeColor": "black",
        "fillColor": "white"
      }
    },
    "strokeDash": {
      "field": "series",
      "type": "nominal",
      "scale": {
        "domain": ["median", "80% prediction interval", "95% prediction interval", "observed", "+/- 0.5 child", "60 sample trajectories"],
        "range": [[1, 0], [7, 5], [2, 3], [1, 0], [6, 4, 2, 4], [1, 0]]
      },
      "legend": {
        "title": null,
        "orient": "none",
        "legendX": 127,
        "legendY": 192,
        "symbolType": "M-2.3,0H2.3",
        "symbolSize": 100,
        "symbolStrokeWidth": 2,
        "symbolOffset": 10,
        "labelOffset": 17,
        "labelFont": "Liberation Sans",
        "labelFontSize": 12,
        "labelColor": "black",
        "labelLimit": 300,
        "padding": 6.5,
        "rowPadding": 2,
        "strokeColor": "black",
        "fillColor": "white"
      }
    },
    "detail": {"field": "line", "type": "nominal"}
  },
  "layer": [
    {
      "data": {"name": "traj"},
      "mark": {"type": "line", "strokeWidth": 1, "interpolate": "monotone"}
    },
    {
      "data": {"name": "main"},
      "mark": {"type": "line", "strokeWidth": 2, "interpolate": "monotone"}
    }
  ]
}
